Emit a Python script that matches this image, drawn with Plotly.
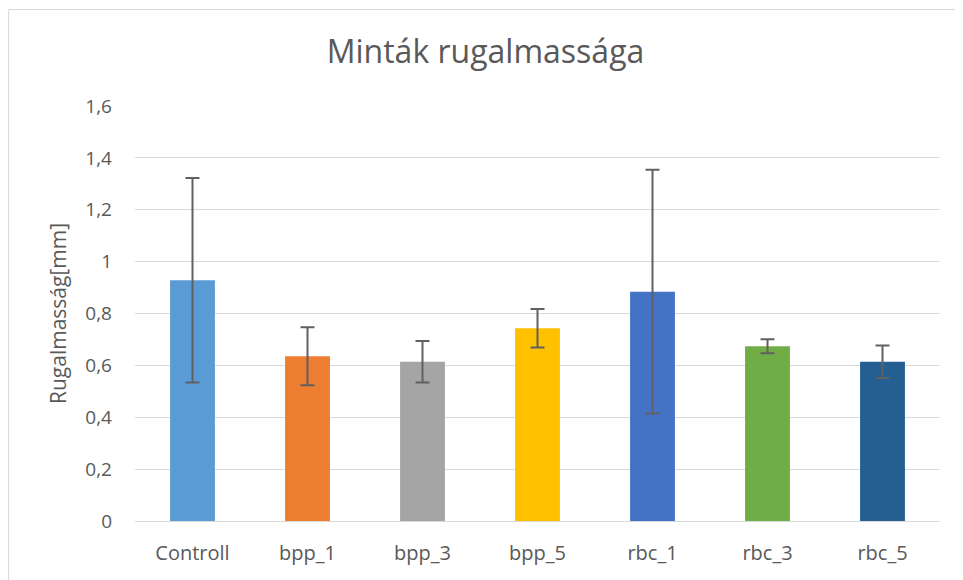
import plotly.graph_objects as go

### data
categories = ["Controll", "bpp_1", "bpp_3", "bpp_5", "rbc_1", "rbc_3", "rbc_5"]
values = [0.928, 0.635, 0.614, 0.743, 0.884, 0.674, 0.614]
errors = [0.394, 0.112, 0.08, 0.074, 0.47, 0.027, 0.063]
colors = ["#5B9BD5", "#ED7D31", "#A5A5A5", "#FFC000", "#4472C4", "#70AD47", "#255E91"]
y_ticks = [0, 0.2, 0.4, 0.6, 0.8, 1.0, 1.2, 1.4, 1.6]

font_main = "Open Sans, Liberation Sans, sans-serif"
grey_txt = "#595959"

fig = go.Figure()
fig.add_trace(go.Bar(
    x=categories, y=values,
    marker=dict(color=colors, line=dict(width=0)),
    error_y=dict(type="data", array=errors, visible=True,
                 color="#606060", thickness=2, width=7),
    showlegend=False,
))

### page body has an 8px margin, so the figure is a bit smaller than the window
fig.update_layout(
    width=955, height=572,
    margin=dict(l=127, r=23, t=98, b=59),
    paper_bgcolor="white", plot_bgcolor="white",
    separators=", ",
    bargap=0.61,
    title=dict(text="Minták rugalmassága", x=0.5, xanchor="center",
               y=0.923, yanchor="middle",
               font=dict(family=font_main, size=32, color=grey_txt)),
    font=dict(family=font_main, color=grey_txt),
)

fig.update_yaxes(
    range=[0, 1.6], tickvals=y_ticks,
    showgrid=True, gridcolor="#D9D9D9", gridwidth=1,
    zeroline=False, showline=False,
    ticklabelstandoff=22,
    tickfont=dict(size=19, color=grey_txt),
    title=dict(text="Rugalmasság[mm]", standoff=12,
               font=dict(size=21, color=grey_txt)),
)
fig.update_xaxes(
    showline=True, linecolor="#D9D9D9", linewidth=1,
    showgrid=False,
    ticklabelstandoff=14,
    tickfont=dict(size=20, color=grey_txt),
)

### chart frame like the excel chart area
fig.add_shape(type="rect", xref="paper", yref="paper",
              x0=-0.157, x1=1.027, y0=-0.15, y1=1.2325,
              line=dict(color="#D9D9D9", width=1))

fig.write_html("out.html")
